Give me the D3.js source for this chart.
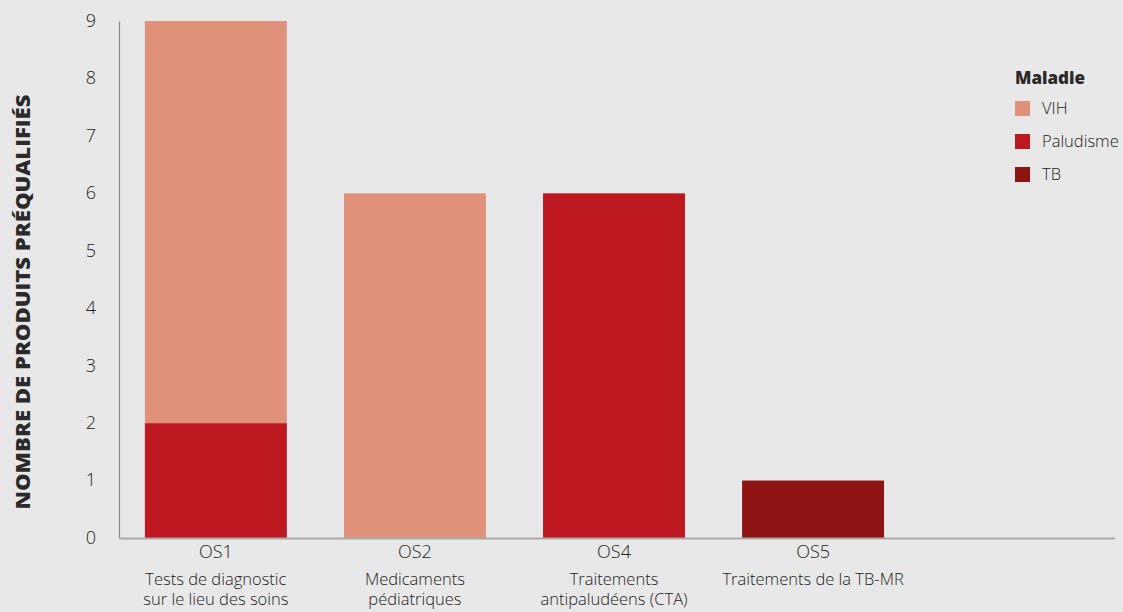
<!DOCTYPE html>
<html lang="fr">
<head>
<meta charset="UTF-8">
<title>Nombre de produits préqualifiés</title>
<style>
    body { margin: 0; background: #e8e8e8; }
    svg { display: block; font-family: "Open Sans", Lato, sans-serif; }
</style>
</head>
<body>
<div id="chart"></div>
<script src="https://d3js.org/d3.v7.min.js"></script>
<script>
    // categories (the last one is an empty slot, as in the original)
    var codes = ["OS1", "OS2", "OS4", "OS5", ""];
    var descriptions = [
        ["Tests de diagnostic", "sur le lieu des soins"],
        ["Medicaments", "pédiatriques"],
        ["Traitements", "antipaludéens (CTA)"],
        ["Traitements de la TB-MR"],
        []
    ];
    var diseases = ["VIH", "Paludisme", "TB"];
    var vih       = [7, 6, 0, 0, 0];
    var paludisme = [2, 0, 6, 0, 0];
    var tb        = [0, 0, 0, 1, 0];
    var yTicks = [0, 1, 2, 3, 4, 5, 6, 7, 8, 9];
    var colors = ["#df917a", "#bd171f", "#8d1412"];

    var width = 1123, height = 612;

    var svg = d3.select("#chart").append("svg")
        .attr("width", width)
        .attr("height", height);

    var rows = codes.map(function (c, i) {
        return { code: c, VIH: vih[i], Paludisme: paludisme[i], TB: tb[i] };
    });

    var x = d3.scaleBand()
        .domain(codes.map(function (c, i) { return i; }))
        .range([120, 1108])
        .paddingInner(0.287)
        .paddingOuter(0.125);

    var y = d3.scaleLinear()
        .domain([0, 9])
        .range([538, 21]);

    var color = d3.scaleOrdinal().domain(diseases).range(colors);

    // paludisme sits at the bottom of the stack
    var stack = d3.stack().keys(["Paludisme", "VIH", "TB"]);
    var series = stack(rows);

    svg.append("g")
        .selectAll("g")
        .data(series)
        .enter().append("g")
        .attr("fill", function (d) { return color(d.key); })
        .selectAll("rect")
        .data(function (d) { return d; })
        .enter().append("rect")
        .filter(function (d) { return d[1] - d[0] > 0; })
        .attr("x", function (d) { return x(rows.indexOf(d.data)); })
        .attr("y", function (d) { return y(d[1]); })
        .attr("width", x.bandwidth())
        .attr("height", function (d) { return y(d[0]) - y(d[1]); });

    // y axis
    var yAxis = svg.append("g")
        .attr("transform", "translate(119,0)")
        .call(d3.axisLeft(y).tickValues(yTicks).tickSize(0).tickPadding(23));
    yAxis.attr("font-family", null);
    yAxis.select(".domain").attr("stroke", "#888").attr("stroke-width", 1.2);
    yAxis.selectAll("text")
        .attr("font-size", 18)
        .attr("font-weight", 300)
        .attr("fill", "#222")
        .attr("dy", "0.3em");

    // x axis line
    svg.append("line")
        .attr("x1", 119).attr("x2", 1115)
        .attr("y1", 538.5).attr("y2", 538.5)
        .attr("stroke", "#aaa").attr("stroke-width", 2);

    var xl = svg.append("g").selectAll("g")
        .data(codes)
        .enter().append("g")
        .attr("transform", function (d, i) {
            return "translate(" + (x(i) + x.bandwidth() / 2) + ",0)";
        });

    xl.append("text")
        .attr("y", 558)
        .attr("text-anchor", "middle")
        .attr("font-size", 18)
        .attr("font-weight", 300)
        .attr("fill", "#222")
        .text(function (d) { return d; });

    // description lines under each code
    xl.each(function (d, i) {
        d3.select(this).selectAll("text.desc")
            .data(descriptions[i])
            .enter().append("text")
            .attr("class", "desc")
            .attr("y", function (t, j) { return 585 + j * 20; })
            .attr("text-anchor", "middle")
            .attr("font-size", 16.5)
            .attr("font-weight", 300)
            .attr("fill", "#222")
            .text(function (t) { return t; });
    });

    // y title
    svg.append("text")
        .attr("transform", "translate(30,302) rotate(-90)")
        .attr("text-anchor", "middle")
        .attr("font-size", 19)
        .attr("font-weight", 800)
        .attr("fill", "#2a2a2a")
        .attr("textLength", 415)
        .attr("lengthAdjust", "spacingAndGlyphs")
        .text("NOMBRE DE PRODUITS PRÉQUALIFIÉS");

    // legend
    var legend = svg.append("g").attr("transform", "translate(1015,0)");
    legend.append("text")
        .attr("y", 84)
        .attr("font-size", 17)
        .attr("font-weight", 800)
        .attr("fill", "#2a2a2a")
        .text("Maladie");

    var li = legend.selectAll("g.item")
        .data(diseases)
        .enter().append("g")
        .attr("class", "item")
        .attr("transform", function (d, i) { return "translate(0," + (101 + i * 33) + ")"; });
    li.append("rect")
        .attr("width", 15).attr("height", 15)
        .attr("fill", function (d) { return color(d); });
    li.append("text")
        .attr("x", 27).attr("y", 13)
        .attr("font-size", 16.5)
        .attr("font-weight", 300)
        .attr("fill", "#222")
        .text(function (d) { return d; });
</script>
</body>
</html>
